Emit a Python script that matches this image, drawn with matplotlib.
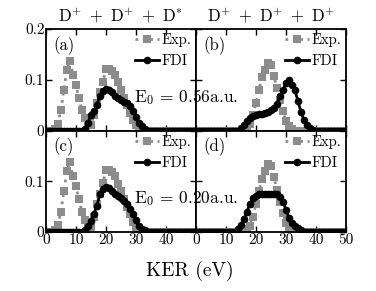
import matplotlib.pyplot as plt
import matplotlib as mpl

mpl.rcParams["font.family"] = "cmr10"
mpl.rcParams["mathtext.fontset"] = "cm"
mpl.rcParams["axes.formatter.use_mathtext"] = True
mpl.rcParams["axes.unicode_minus"] = False

# KER grid (eV), same for both series
ker = [0, 1, 2, 3, 4, 5, 6, 7, 8, 9, 10, 11, 12, 13, 14, 15, 16, 17, 18, 19, 20,
       21, 22, 23, 24, 25, 26, 27, 28, 29, 30, 31, 32, 33, 34, 35, 36, 37, 38, 39, 40,
       41, 42, 43, 44, 45, 46, 47, 48, 49, 50]

# experiment, D+ + D+ + D*  (panels a, c)
exp_star = [0, 0, 0, 0.003, 0.013, 0.04, 0.08, 0.12, 0.138, 0.11, 0.09,
            0.065, 0.04, 0.024, 0.013, 0.01, 0.03, 0.055, 0.075, 0.096, 0.122,
            0.122, 0.118, 0.11, 0.095, 0.08, 0.065, 0.05, 0.035, 0.02, 0.01,
            0.004, 0, 0, 0, 0, 0, 0, 0, 0, 0,
            0, 0, 0, 0, 0, 0, 0, 0, 0, 0]
# experiment, D+ + D+ + D+  (panels b, d)
exp_plus = [0, 0, 0, 0, 0, 0, 0, 0, 0, 0, 0,
            0, 0, 0, 0, 0, 0, 0.005, 0.012, 0.03, 0.055,
            0.08, 0.105, 0.12, 0.133, 0.13, 0.108, 0.083, 0.06, 0.038, 0.018,
            0.008, 0.003, 0, 0, 0, 0, 0, 0, 0, 0,
            0, 0, 0, 0, 0, 0, 0, 0, 0, 0]

fdi_a = [0, 0, 0, 0, 0, 0, 0, 0, 0, 0, 0,
         0, 0, 0.003, 0.015, 0.03, 0.038, 0.05, 0.069, 0.077, 0.081,
         0.08, 0.075, 0.069, 0.065, 0.06, 0.057, 0.054, 0.048, 0.038, 0.027,
         0.015, 0.008, 0.003, 0, 0, 0, 0, 0, 0, 0,
         0, 0, 0, 0, 0, 0, 0, 0, 0, 0]
fdi_b = [0, 0, 0, 0, 0, 0, 0, 0, 0, 0, 0,
         0, 0, 0, 0, 0.004, 0.01, 0.018, 0.025, 0.028, 0.03,
         0.032, 0.033, 0.035, 0.037, 0.04, 0.044, 0.052, 0.068, 0.08, 0.093,
         0.1, 0.09, 0.08, 0.058, 0.037, 0.02, 0.01, 0.004, 0.001, 0,
         0, 0, 0, 0, 0, 0, 0, 0, 0, 0]
fdi_c = [0, 0, 0, 0, 0, 0, 0, 0, 0, 0, 0,
         0, 0, 0.004, 0.012, 0.022, 0.036, 0.052, 0.074, 0.084, 0.088,
         0.086, 0.08, 0.074, 0.071, 0.066, 0.061, 0.056, 0.046, 0.035, 0.024,
         0.011, 0.006, 0.003, 0, 0, 0, 0, 0, 0, 0,
         0, 0, 0, 0, 0, 0, 0, 0, 0, 0]
fdi_d = [0, 0, 0, 0, 0, 0, 0, 0, 0, 0, 0,
         0, 0, 0, 0.006, 0.013, 0.025, 0.04, 0.056, 0.066, 0.071,
         0.074, 0.075, 0.075, 0.075, 0.075, 0.075, 0.074, 0.069, 0.06, 0.044,
         0.028, 0.018, 0.012, 0.007, 0.003, 0, 0, 0, 0, 0,
         0, 0, 0, 0, 0, 0, 0, 0, 0, 0]

panels = [("(a)", exp_star, fdi_a), ("(b)", exp_plus, fdi_b),
          ("(c)", exp_star, fdi_c), ("(d)", exp_plus, fdi_d)]
titles = [r"$\mathrm{D}^{+}\ +\ \mathrm{D}^{+}\ +\ \mathrm{D}^{*}$",
          r"$\mathrm{D}^{+}\ +\ \mathrm{D}^{+}\ +\ \mathrm{D}^{+}$"]
e0_labels = [r"$\mathrm{E}_0$ = 0.56a.u.", r"$\mathrm{E}_0$ = 0.20a.u."]

fig, axes = plt.subplots(2, 2, figsize=(3.76, 2.91), dpi=100)
fig.subplots_adjust(left=0.122, right=0.92, top=0.9, bottom=0.203,
                    hspace=0, wspace=0)

for k, ax in enumerate(axes.flat):
    label, exp_vals, fdi_vals = panels[k]
    row, col = divmod(k, 2)
    ax.plot(ker, exp_vals, ls=":", lw=2, color="#8c8c8c", marker="s",
            ms=5.2, mew=0, label="Exp.", zorder=2)
    ax.plot(ker, fdi_vals, ls="-", lw=2, color="black", marker="o",
            ms=5.5, mew=0, label="FDI", zorder=3)
    ax.set_xlim(0, 50)
    ax.set_ylim(0, 0.2)
    ax.set_xticks([0, 10, 20, 30, 40, 50])
    ax.set_yticks([0, 0.1, 0.2])
    ax.tick_params(direction="in", top=True, right=True, length=4,
                   width=1, labelsize=11, pad=1)
    for sp in ax.spines.values():
        sp.set_linewidth(1.3)
    if row == 0:
        ax.tick_params(labelbottom=False)
        ax.set_title(titles[col], fontsize=12, pad=6)
    else:
        ax.set_xticklabels(["0", "10", "20", "30", "40", "50"] if col == 1
                           else ["0", "10", "20", "30", "40", ""])
    if col == 0:
        ax.set_yticklabels(["0", "0.1", "0.2"] if row == 0 else ["0", "0.1", ""])
    else:
        ax.tick_params(labelleft=False)
    ax.text(0.05, 0.93, label, transform=ax.transAxes, fontsize=12,
            ha="left", va="top")
    ax.legend(loc="upper right", frameon=False, fontsize=10.5,
              handlelength=1.6, handletextpad=0.2, labelspacing=0.5,
              borderaxespad=0.1, borderpad=0.2)

for row in range(2):
    bb = axes[row, 0].get_position()
    fig.text(bb.x1 - 0.025, bb.y0 + 0.33 * bb.height, e0_labels[row],
             fontsize=12.5, ha="center", va="center", zorder=5)

fig.text(0.505, 0.07, "KER (eV)", fontsize=14, ha="center", va="center")

fig.savefig("out.png", dpi=100)
